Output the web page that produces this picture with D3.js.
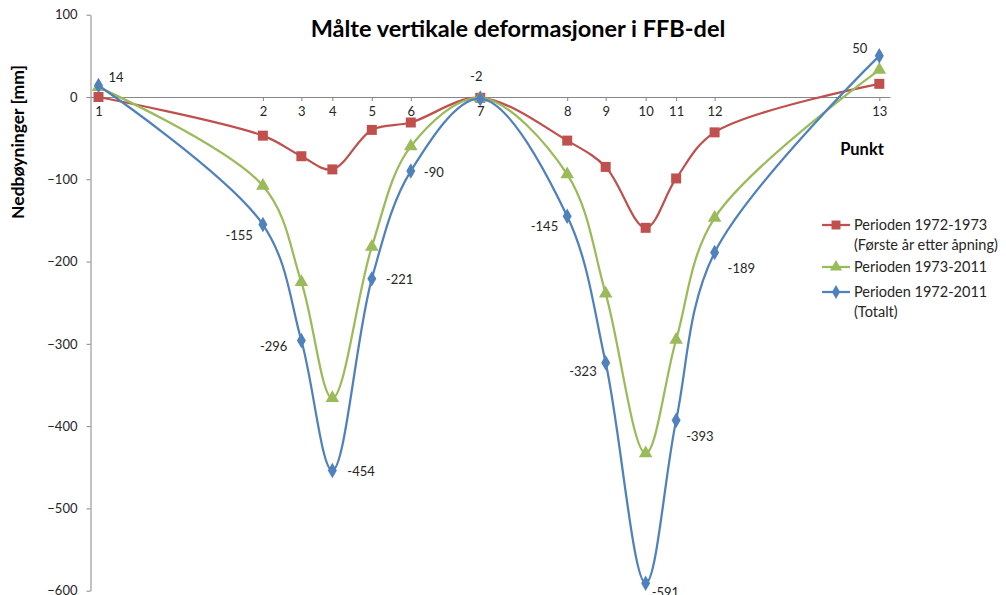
<!DOCTYPE html>
<html>
<head>
<meta charset="utf-8">
<script src="https://cdn.jsdelivr.net/npm/d3@7"></script>
<style>
  body { margin: 0; background: #fff; }
  text { font-family: Lato, "Open Sans", sans-serif; }
</style>
</head>
<body>
<div id="chart"></div>
<script>
var width  = 1006;
var height = 595;

// punkt numbers and their position along the profile
var punkt   = [1, 2, 3, 4, 5, 6, 7, 8, 9, 10, 11, 12, 13];
var stasjon = [8, 172.5, 211, 242, 281.5, 320.5, 390, 477, 515.5, 555.5, 586, 624.5, 789.3];

// measured vertical deformations [mm]
var periode7273 = [0, -47, -72, -88, -40, -31, -1, -53, -85, -159, -99, -43, 16];
var periode7311 = [12, -108, -225, -366, -182, -60, -1, -94, -239, -433, -295, -147, 33];
var periode7211 = [14, -155, -296, -454, -221, -90, -2, -145, -323, -591, -393, -189, 50];

var yTicks = [100, 0, -100, -200, -300, -400, -500, -600];

var seriesNames = [
  ["Perioden 1972-1973", "(Første år etter åpning)"],
  ["Perioden 1973-2011"],
  ["Perioden 1972-2011", "(Totalt)"]
];

// label offsets for the total series (dx, dy, anchor)
var labelPos = [
  [10, -8, "start"], [-10, 11, "end"], [-14, 6, "end"], [15, 1, "start"],
  [14, 1, "start"], [13, 1, "start"], [-4, -22, "middle"], [-9, 10, "end"],
  [-9, 9, "end"], [6, 9, "start"], [10, 16, "start"], [13, 16, "start"],
  [-12, -7, "end"]
];

var svg = d3.select("#chart").append("svg")
  .attr("width", width)
  .attr("height", height);

svg.append("rect").attr("width", width).attr("height", height).attr("fill", "#fff");

var x = d3.scaleLinear().domain([0, 800]).range([90.5, 890]);
var y = d3.scaleLinear().domain([-600, 100]).range([590.7, 14.7]);

var axisColor = "#868686";

// y axis
var yAxis = svg.append("g")
  .attr("transform", "translate(90.5,0)")
  .call(d3.axisLeft(y).tickValues(yTicks).tickSize(4).tickSizeOuter(0).tickPadding(9));
yAxis.select(".domain").attr("stroke", axisColor);
yAxis.selectAll(".tick line").attr("stroke", axisColor);
yAxis.selectAll(".tick text")
  .attr("fill", "#262626")
  .style("font-size", "13px")
  .style("font-family", "Lato, sans-serif");

// x axis on the zero line
var xAxis = svg.append("g")
  .attr("transform", "translate(0," + y(0) + ")")
  .call(d3.axisBottom(x).tickValues(stasjon)
    .tickFormat(function(d, i) { return punkt[i]; })
    .tickSize(4).tickSizeOuter(0).tickPadding(6));
xAxis.select(".domain").attr("stroke", axisColor);
xAxis.selectAll(".tick line").attr("stroke", axisColor);
xAxis.selectAll(".tick text")
  .attr("fill", "#262626")
  .style("font-size", "13px")
  .style("font-family", "Lato, sans-serif");

// titles
svg.append("text")
  .attr("x", 518).attr("y", 37)
  .attr("text-anchor", "middle")
  .style("font-size", "23.5px")
  .style("font-weight", "bold")
  .text("Målte vertikale deformasjoner i FFB-del");

svg.append("text")
  .attr("transform", "translate(24,142) rotate(-90)")
  .attr("text-anchor", "middle")
  .style("font-size", "17.5px")
  .style("font-weight", "bold")
  .text("Nedbøyninger [mm]");

svg.append("text")
  .attr("x", 862).attr("y", 155)
  .attr("text-anchor", "middle")
  .style("font-size", "16.5px")
  .style("font-weight", "bold")
  .text("Punkt");

var colors = ["#C0504D", "#9BBB59", "#4F81BD"];
var shapes = [d3.symbolSquare, d3.symbolTriangle, d3.symbolDiamond];
var sizes  = [100, 80, 70];
var allSeries = [periode7273, periode7311, periode7211];

var line = d3.line()
  .x(function(d, i) { return x(stasjon[i]); })
  .y(function(d) { return y(d); })
  .curve(d3.curveCatmullRom.alpha(0.5));

allSeries.forEach(function(vals, s) {
  var g = svg.append("g");
  g.append("path")
    .attr("d", line(vals))
    .attr("fill", "none")
    .attr("stroke", colors[s])
    .attr("stroke-width", 2.25);

  g.selectAll(".m")
    .data(vals)
    .enter().append("path")
    .attr("class", "m")
    .attr("d", d3.symbol().type(shapes[s]).size(sizes[s]))
    .attr("transform", function(d, i) {
      return "translate(" + x(stasjon[i]) + "," + y(d) + ")";
    })
    .attr("fill", colors[s]);
});

// data labels on the total series
svg.selectAll(".lbl")
  .data(periode7211)
  .enter().append("text")
  .attr("class", "lbl")
  .attr("x", function(d, i) { return x(stasjon[i]) + labelPos[i][0]; })
  .attr("y", function(d, i) { return y(d) + labelPos[i][1]; })
  .attr("dy", "0.35em")
  .attr("text-anchor", function(d, i) { return labelPos[i][2]; })
  .attr("fill", "#262626")
  .style("font-size", "13px")
  .text(function(d) { return d; });

// legend
var legendY = [225, 267, 292];
seriesNames.forEach(function(names, s) {
  var g = svg.append("g").attr("transform", "translate(822," + legendY[s] + ")");
  g.append("line")
    .attr("x1", 0).attr("x2", 28)
    .attr("stroke", colors[s]).attr("stroke-width", 2.25);
  g.append("path")
    .attr("d", d3.symbol().type(shapes[s]).size(sizes[s] * 0.8))
    .attr("transform", "translate(14,0)")
    .attr("fill", colors[s]);
  names.forEach(function(t, k) {
    g.append("text")
      .attr("x", 32).attr("y", k * 19.5)
      .attr("dy", "0.35em")
      .attr("fill", "#262626")
      .style("font-size", "14.5px")
      .text(t);
  });
});
</script>
</body>
</html>
